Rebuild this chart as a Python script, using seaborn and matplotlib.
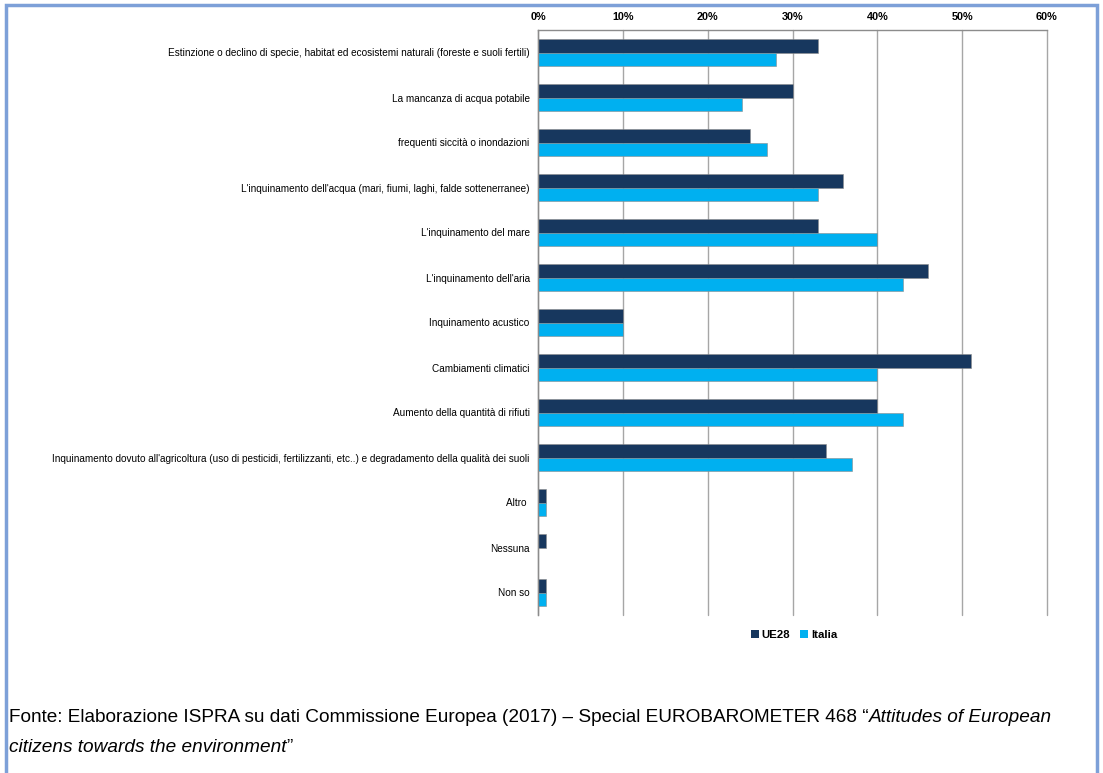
import matplotlib
matplotlib.use('Agg')
import matplotlib.pyplot as plt
from matplotlib.patches import Rectangle, Patch
from matplotlib.ticker import FixedLocator, FuncFormatter
import numpy as np
import pandas as pd
import seaborn as sns

categories = [
    "Estinzione o declino di specie, habitat ed ecosistemi naturali (foreste e suoli fertili)",
    "La mancanza di acqua potabile",
    "frequenti siccità o inondazioni",
    "L'inquinamento dell'acqua (mari, fiumi, laghi, falde sottenerranee)",
    "L'inquinamento del mare",
    "L'inquinamento dell'aria",
    "Inquinamento acustico",
    "Cambiamenti climatici",
    "Aumento della quantità di rifiuti",
    "Inquinamento dovuto all'agricoltura (uso di pesticidi, fertilizzanti, etc..) e degradamento della qualità dei suoli",
    "Altro ",
    "Nessuna",
    "Non so",
]
ue28 = [33, 30, 25, 36, 33, 46, 10, 51, 40, 34, 1, 1, 1]
italia = [28, 24, 27, 33, 40, 43, 10, 40, 43, 37, 1, 0, 1]
series = ["UE28", "Italia"]
colors = ["#17375E", "#00B0F0"]
xticks = [0, 10, 20, 30, 40, 50, 60]

df = pd.DataFrame({
    "categoria": categories * 2,
    "valore": ue28 + italia,
    "serie": ["UE28"] * len(categories) + ["Italia"] * len(categories),
})

sns.set_style("white")
plt.rcParams['font.family'] = ['Liberation Sans', 'DejaVu Sans']
plt.rcParams['text.color'] = 'black'
plt.rcParams['xtick.labelcolor'] = 'black'
plt.rcParams['ytick.labelcolor'] = 'black'

fig = plt.figure(figsize=(11.03, 7.73), dpi=100, facecolor='white')
ax = fig.add_axes([538 / 1103, 1 - 615 / 773, (1047 - 538) / 1103, (615 - 30) / 773])

sns.barplot(data=df, y="categoria", x="valore", hue="serie", order=categories,
            hue_order=series, palette=colors, saturation=1, orient='h', width=0.6,
            edgecolor='#8c8c8c', linewidth=0.4, ax=ax, legend=False)

ax.set_xlim(0, 60)
ax.set_ylim(len(categories) - 0.5, -0.5)
ax.xaxis.set_major_locator(FixedLocator(xticks))
ax.xaxis.set_major_formatter(FuncFormatter(lambda v, p: f"{int(v)}%"))
ax.xaxis.tick_top()
ax.grid(axis='x', color='#a6a6a6', linewidth=1)
for gl in ax.get_xgridlines():
    gl.set_clip_on(False)
ax.set_axisbelow(True)
for lbl in ax.get_xticklabels():
    lbl.set_fontweight('bold')
    lbl.set_fontsize(7.8)
ax.tick_params(axis='x', length=0, pad=6)

ax.set_yticks(np.arange(len(categories)))
ax.set_yticklabels(categories, fontsize=7.2)
ax.tick_params(axis='y', which='major', length=0, pad=6)
ax.set_yticks(np.arange(len(categories) + 1) - 0.5, minor=True)
ax.tick_params(axis='y', which='minor', length=3, color='#8c8c8c', width=1)
ax.set_xlabel("")
ax.set_ylabel("")

for s in ['right', 'bottom']:
    ax.spines[s].set_visible(False)
for s in ['top', 'left']:
    ax.spines[s].set_color('#8c8c8c')
    ax.spines[s].set_linewidth(1)

handles = [Patch(facecolor=c, edgecolor='none') for c in colors]
fig.legend(handles, series, loc='center', bbox_to_anchor=(794 / 1103, 1 - 635 / 773),
           ncol=2, frameon=False, handlelength=0.7, handleheight=0.7,
           handletextpad=0.25, columnspacing=0.9, prop={'weight': 'bold', 'size': 8.2})

fs = 13.7
t1 = fig.text(9 / 1103, 1 - 717 / 773,
              "Fonte: Elaborazione ISPRA su dati Commissione Europea (2017) \u2013 Special EUROBAROMETER 468 \u201c",
              fontsize=fs, va='center', ha='left')
fig.canvas.draw()
bb = t1.get_window_extent()
fig.text(bb.x1 / 1103, 1 - 717 / 773, "Attitudes of European",
         fontsize=fs, va='center', ha='left', style='italic')
t2 = fig.text(9 / 1103, 1 - 747 / 773, "citizens towards the environment",
              fontsize=fs, va='center', ha='left', style='italic')
fig.canvas.draw()
bb2 = t2.get_window_extent()
fig.text(bb2.x1 / 1103, 1 - 747 / 773, "\u201d", fontsize=fs, va='center', ha='left')

fig.patches.append(Rectangle((6 / 1103, -0.05), (1097 - 6) / 1103, 1.05 - 5 / 773,
                             transform=fig.transFigure, fill=False,
                             edgecolor='#7da0d8', linewidth=2.5))

plt.savefig("out.png", dpi=100, facecolor='white')
